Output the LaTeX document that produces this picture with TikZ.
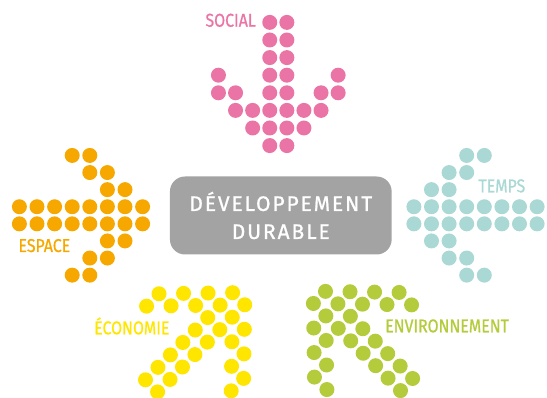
\documentclass[tikz,border=0pt]{standalone}
\usepackage{fontspec}
\setmainfont{Fira Sans}
\newfontfamily\tagfont{Fira Sans}[FakeStretch=0.86,FakeBold=0.8]
\newfontfamily\corefont{Fira Sans}[LetterSpace=9,FakeBold=1]
\definecolor{socialc}{HTML}{EB74A6}
\definecolor{espacec}{HTML}{F6A800}
\definecolor{tempsc}{HTML}{A9D8D5}
\definecolor{economiec}{HTML}{FFE600}
\definecolor{environc}{HTML}{B4CC3C}
\definecolor{corec}{HTML}{A3A3A3}
\tikzset{
	tag/.style={font=\tagfont\fontsize{18.5}{18.5}\selectfont, inner sep=0pt},
	core/.style={fill=corec, rounded corners=15pt, minimum width=221.7pt, minimum height=78pt,
		text=white, align=center, font=\corefont\fontsize{21}{28}\selectfont}
}
\newcommand{\dotarrow}[4]{%
	\begin{scope}[shift={(#1,#2)},rotate=#3]
		\foreach \c/\r in {3/0,4/0,3/1,4/1,3/2,4/2,0/3,3/3,4/3,7/3,0/4,1/4,3/4,4/4,6/4,7/4,
			1/5,2/5,3/5,4/5,5/5,6/5,2/6,3/6,4/6,5/6,3/7,4/7}
			\fill[#4] ({(\c-3.5)*17.1},{(3.5-\r)*17.6}) circle [radius=7.5pt];
	\end{scope}}
\begin{document}
\begin{tikzpicture}[x=1pt,y=1pt]
	\useasboundingbox (0,0) rectangle (547,398);
	\dotarrow{278.3}{314}{0}{socialc}
	\dotarrow{81}{182.7}{90}{espacec}
	\dotarrow{475.5}{182.7}{-90}{tempsc}
	\dotarrow{195.1}{55.7}{135}{economiec}
	\dotarrow{363}{57}{225}{environc}
	\node [core] (dd) at (280.8,182.5) {DÉVELOPPEMENT\\DURABLE};
	\node [tag, text=socialc, anchor=base east] (social) at (256,371.3) {SOCIAL};
	\node [tag, text=espacec, anchor=base west] (espace) at (18.3,146) {ESPACE};
	\node [tag, text=tempsc, anchor=base west] (temps) at (478.3,205.7) {TEMPS};
	\node [tag, text=economiec, anchor=base west] (economie) at (94,63.7) {ÉCONOMIE};
	\node [tag, text=environc, anchor=base west] (environ) at (385,65.7) {ENVIRONNEMENT};
\end{tikzpicture}
\end{document}
